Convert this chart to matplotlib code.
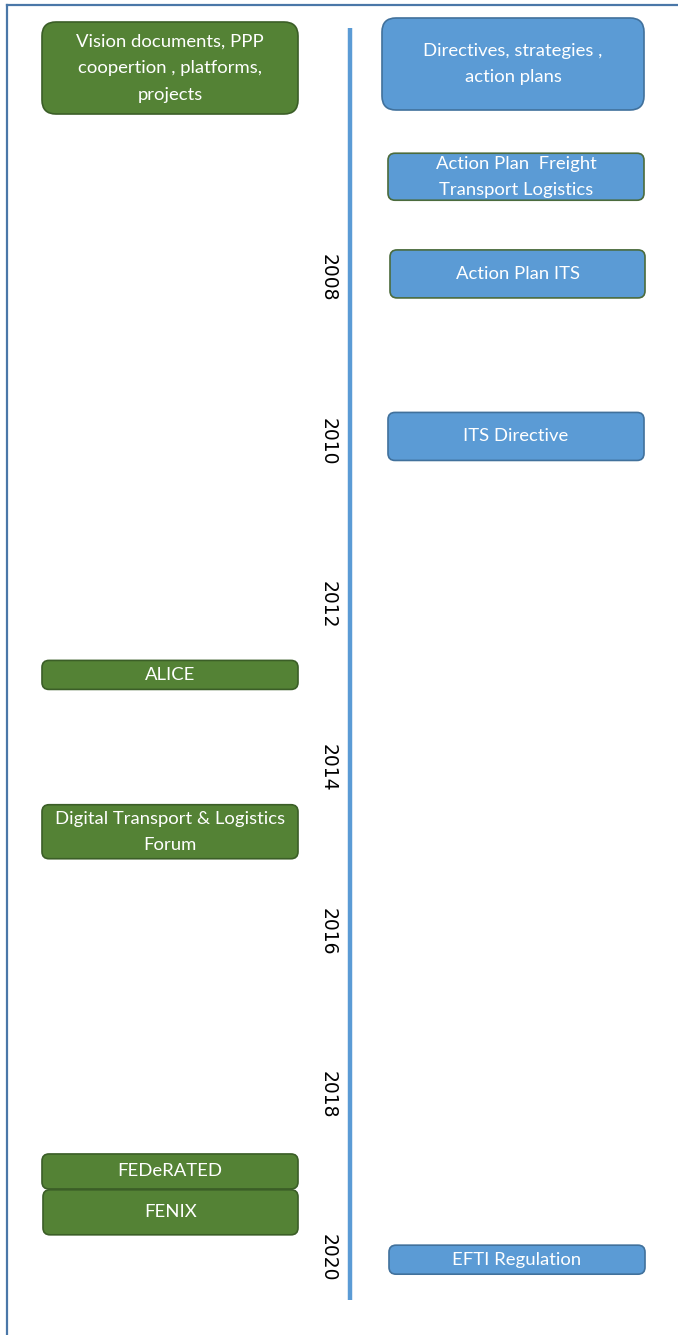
import matplotlib
matplotlib.use("Agg")
import matplotlib.pyplot as plt
from matplotlib.patches import FancyBboxPatch
from matplotlib.lines import Line2D
from matplotlib import font_manager as fm

# ---------------- data ----------------
years = [2008, 2010, 2012, 2014, 2016, 2018, 2020]

header_left = "Vision documents, PPP\ncoopertion , platforms,\nprojects"
header_right = "Directives, strategies ,\naction plans"

right_labels = ["Action Plan  Freight\nTransport Logistics", "Action Plan ITS",
                "ITS Directive", "EFTI Regulation"]
right_years = [2006.76, 2007.95, 2009.94, 2020.02]

left_labels = ["ALICE", "Digital Transport & Logistics\nForum", "FEDeRATED", "FENIX"]
left_years = [2012.86, 2014.78, 2018.94, 2019.44]

# ---------------- style / layout ----------------
W, H = 678, 1335
PX_PER_YEAR = 81.67
Y_TOP = 2008 - 278 / PX_PER_YEAR
Y_BOT = 2008 + (H - 278) / PX_PER_YEAR

def px(h):
    return h / PX_PER_YEAR

right_heights = [47, 48, 48, 29]
right_x = [(388, 644), (390, 645), (388, 644), (389, 645)]
right_edges = ["#4b6b3c", "#4b6b3c", "#41719c", "#41719c"]
left_heights = [29, 54, 35, 45]
left_x = [(42, 298), (42, 298), (42, 298), (43, 298)]

GREEN = "#548235"
GREEN_EDGE = "#3b5e27"
BLUE = "#5b9bd5"
BLUE_EDGE = "#41719c"
FRAME = "#4a77a8"

names = {f.name for f in fm.fontManager.ttflist}
if "Liberation Sans Narrow" in names:
    BOX_FONT, FS = "Liberation Sans Narrow", 15
else:
    BOX_FONT, FS = "Lato", 13.3

fig = plt.figure(figsize=(W / 100, H / 100), dpi=100)
ax = fig.add_axes([0, 0, 1, 1])
ax.set_xlim(0, W)
ax.set_ylim(Y_BOT, Y_TOP)
ax.axis("off")

ASPECT = 1 / PX_PER_YEAR

def box(x0, x1, yc, hpx, fc, ec, text, size=FS, radius=8, ls=1.8):
    h = px(hpx)
    p = FancyBboxPatch((x0, yc - h / 2), x1 - x0, h,
                       boxstyle=f"round,pad=0,rounding_size={radius}",
                       mutation_aspect=ASPECT, fc=fc, ec=ec, lw=1.2, zorder=3)
    ax.add_patch(p)
    ax.text((x0 + x1) / 2, yc, text, ha="center", va="center", color="white",
            fontsize=size, family=[BOX_FONT, "DejaVu Sans"], linespacing=ls,
            zorder=4)

# frame (top and left)
ax.add_line(Line2D([7, W], [Y_TOP + px(5), Y_TOP + px(5)], color=FRAME, lw=1.6))
ax.add_line(Line2D([7, 7], [Y_TOP + px(5), Y_BOT], color=FRAME, lw=1.6))

# timeline axis
ax.add_line(Line2D([350, 350], [Y_TOP + px(28), Y_TOP + px(1300)], color=BLUE,
                   lw=3.2, solid_capstyle="butt", zorder=2))

# year labels
for y in years:
    ax.text(328, y, str(y), rotation=-90, ha="center", va="center",
            fontsize=13.5, family="DejaVu Sans", color="black")

# headers
box(42, 298, Y_TOP + px(68), 92, GREEN, GREEN_EDGE, header_left, radius=14, ls=1.83)
box(382, 644, Y_TOP + px(64), 92, BLUE, BLUE_EDGE, header_right, radius=14, ls=1.83)

# right events
for lab, yr, hh, (x0, x1), ec in zip(right_labels, right_years, right_heights,
                                     right_x, right_edges):
    box(x0, x1, yr, hh, BLUE, ec, lab, radius=7, ls=1.77)

# left events
for lab, yr, hh, (x0, x1) in zip(left_labels, left_years, left_heights, left_x):
    box(x0, x1, yr, hh, GREEN, GREEN_EDGE, lab, radius=7, ls=1.77)

fig.savefig("out.png", dpi=100, facecolor="white")
